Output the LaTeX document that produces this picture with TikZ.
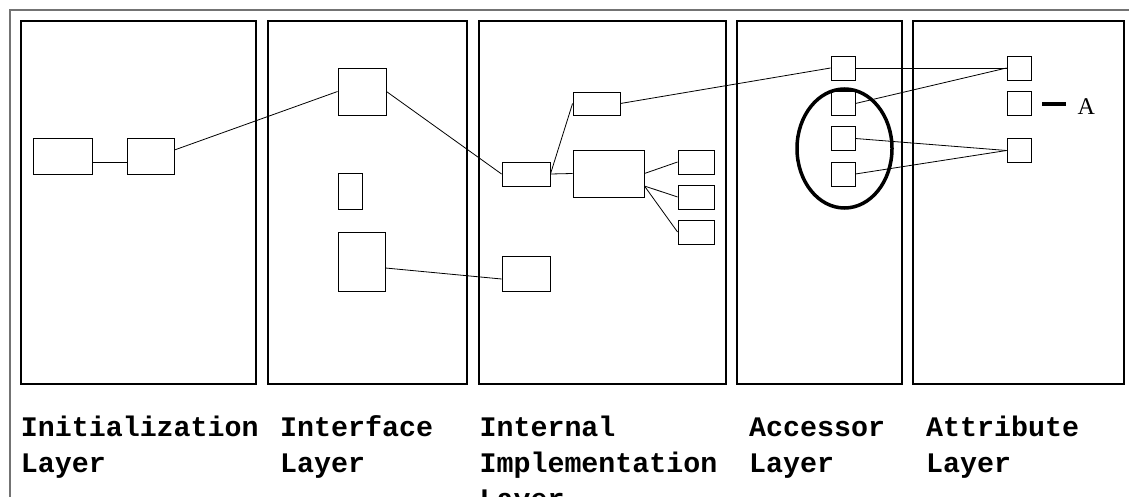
\documentclass[tikz,border=0pt]{standalone}
\usepackage{fontspec}
\newfontfamily\lblfont{Liberation Mono}
\newfontfamily\serfont{Liberation Serif}
\newcommand{\lines}[1]{\vtop{#1}}
\begin{document}
\begin{tikzpicture}[x=1pt,y=-1pt,
  bx/.style={draw,line width=0.9pt,inner sep=0pt,minimum width=#1},
  bx/.default=24pt,
  panel/.style={draw,line width=1.3pt},
  conn/.style={line width=0.8pt},
  lbl/.style={font=\lblfont\bfseries\fontsize{28.3}{36}\selectfont,anchor=base west,inner sep=0pt}]
\useasboundingbox (0,0) rectangle (1129,497);
% outer frame
\draw[line width=2pt,gray!90!black] (10,505) -- (10,10) -- (1140,10);
% panels
\draw[panel] (21,21) rectangle (256,384);
\draw[panel] (268,21) rectangle (467,384);
\draw[panel] (479,21) rectangle (726,384);
\draw[panel] (737,21) rectangle (902,384);
\draw[panel] (913,21) rectangle (1124,384);
% initialization layer
\node[bx=59pt,minimum height=36pt] (a1) at (62.5,156) {};
\node[bx=47pt,minimum height=36pt] (b1) at (150.5,156) {};
% interface layer
\node[bx=48pt,minimum height=47pt] (i1) at (362,91.5) {};
\node[bx=24pt,minimum height=36pt] (i2) at (350,191) {};
\node[bx=47pt,minimum height=59pt] (i3) at (361.5,261.5) {};
% internal implementation layer
\node[bx=47pt,minimum height=23pt] (c1) at (596.5,103.5) {};
\node[bx=48pt,minimum height=24pt] (d) at (526,174) {};
\node[bx=71pt,minimum height=47pt] (e) at (608.5,173.5) {};
\node[bx=36pt,minimum height=24pt] (s1) at (696,162) {};
\node[bx=36pt,minimum height=24pt] (s2) at (696,197) {};
\node[bx=36pt,minimum height=24pt] (s3) at (696,232) {};
\node[bx=48pt,minimum height=35pt] (f) at (526,273.5) {};
% accessor layer
\node[bx,minimum height=24pt] (ac1) at (843,68) {};
\node[bx,minimum height=24pt] (ac2) at (843,103.5) {};
\node[bx,minimum height=24pt] (ac3) at (843,138.5) {};
\node[bx,minimum height=24pt] (ac4) at (843,174) {};
% attribute layer
\node[bx,minimum height=24pt] (at1) at (1019,68) {};
\node[bx,minimum height=24pt] (at2) at (1019,103.5) {};
\node[bx,minimum height=24pt] (at3) at (1019,150.5) {};
% connectors
\draw[conn] ([yshift=-6pt]a1.east) -- ([yshift=-6pt]b1.west);
\draw[conn] ([yshift=6pt]b1.east) -- (i1.west);
\draw[conn] (i1.east) -- (d.west);
\draw[conn] ([yshift=-6.5pt]i3.east) -- ([yshift=-5.5pt]f.west);
\draw[conn] (d.east) -- (c1.west);
\draw[conn] (d.east) -- (e.west);
\draw[conn] (e.east) -- (s1.west);
\draw[conn] ([yshift=-12.5pt]e.east) -- (s2.west);
\draw[conn] ([yshift=-12.5pt]e.east) -- (s3.west);
\draw[conn] (c1.east) -- (ac1.west);
\draw[conn] (ac1.east) -- (at1.west);
\draw[conn] (at1.west) -- (ac2.east);
\draw[conn] (ac3.east) -- (at3.west);
\draw[conn] (ac4.east) -- (at3.west);
% ellipse
\draw[line width=3.5pt] (844.5,148.5) ellipse [x radius=47.5pt, y radius=59.5pt];
% A marker
\coordinate (m1) at (1042,104);
\coordinate (m2) at (1066,104);
\draw[line width=4pt] (m1) -- (m2);
\node[font=\serfont\fontsize{24}{24}\selectfont,anchor=base west,inner sep=0pt] (alab) at (1077.5,115) {A};
% labels
\node[lbl] (l1) at (20.7,436.4) {\lines{\hbox{Initialization}\hbox{Layer}}};
\node[lbl] (l2) at (280,436.4) {\lines{\hbox{Interface}\hbox{Layer}}};
\node[lbl] (l3) at (479.4,436.4) {\lines{\hbox{Internal}\hbox{Implementation}\hbox{Layer}}};
\node[lbl] (l4) at (749,436.4) {\lines{\hbox{Accessor}\hbox{Layer}}};
\node[lbl] (l5) at (926,436.4) {\lines{\hbox{Attribute}\hbox{Layer}}};
\end{tikzpicture}
\end{document}
